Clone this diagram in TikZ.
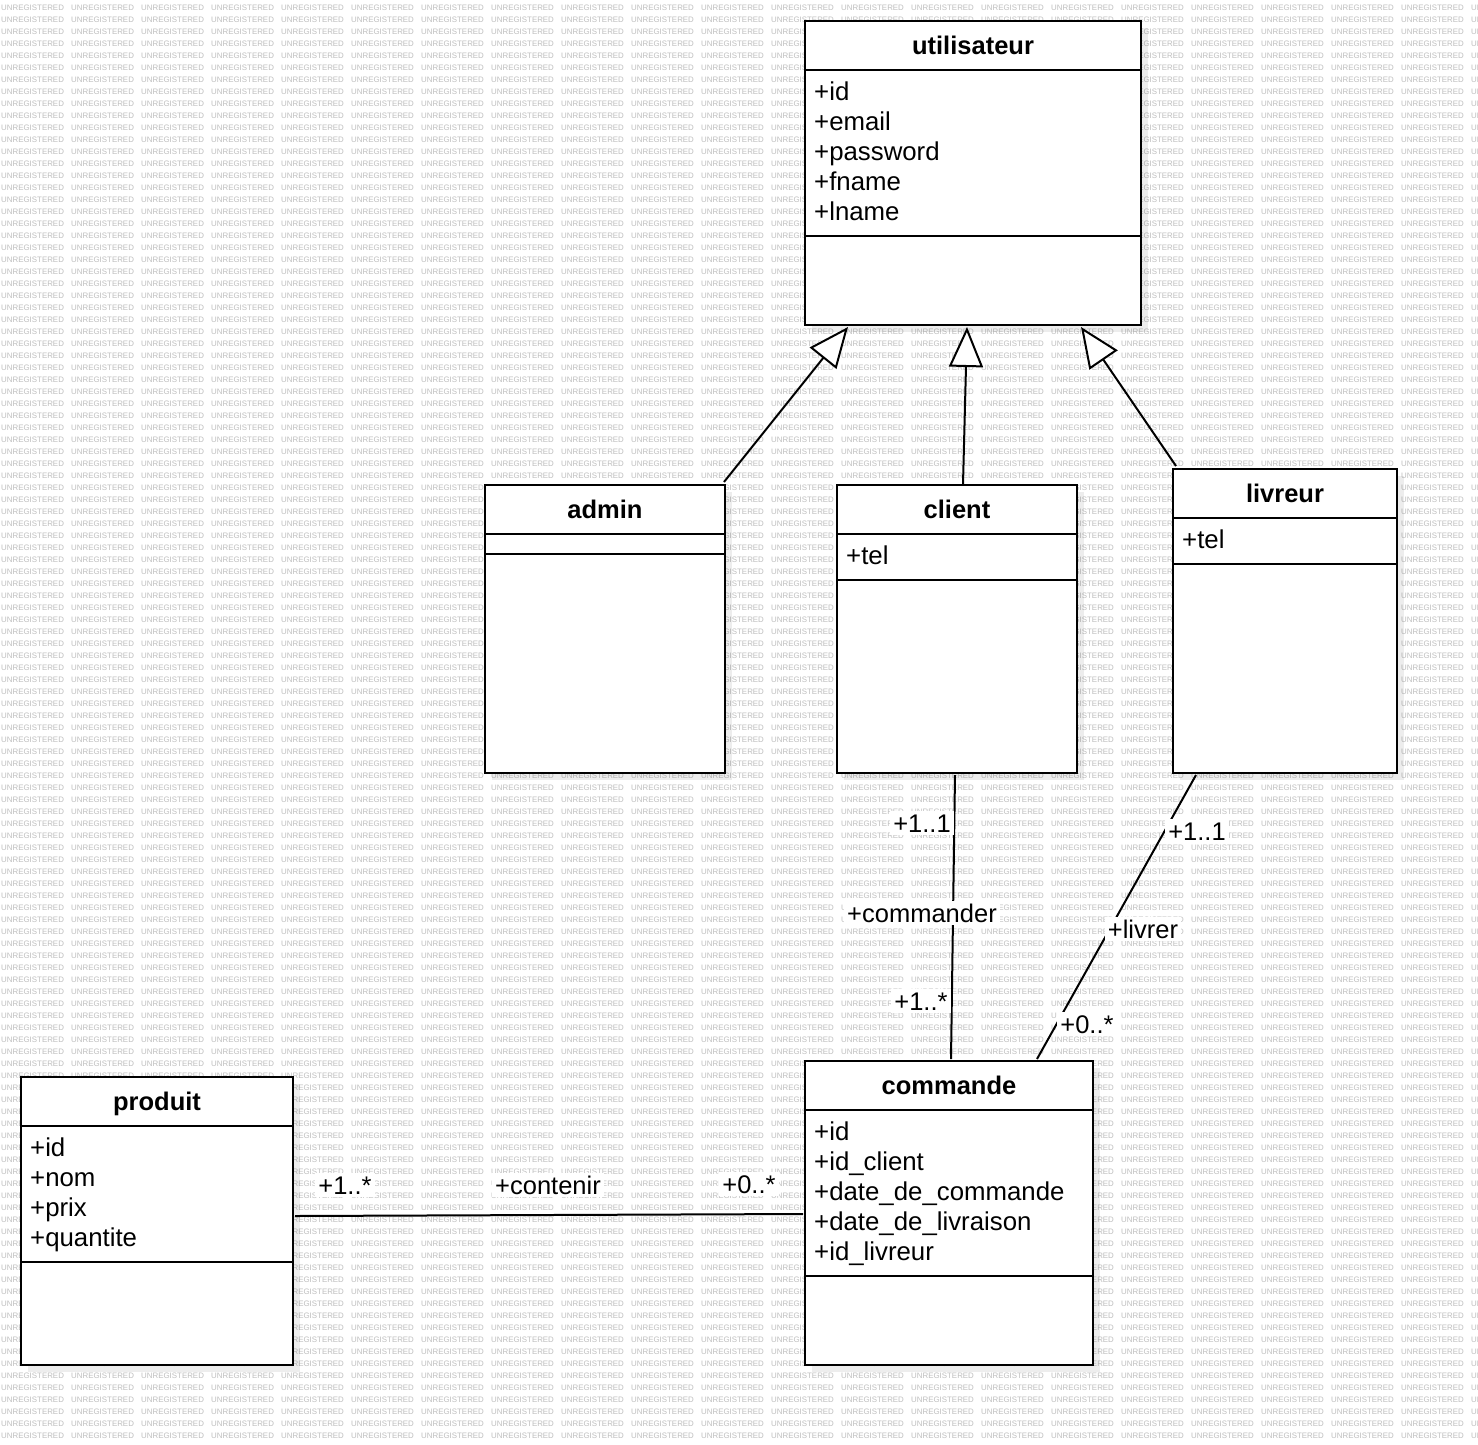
\documentclass[tikz,border=0pt]{standalone}
\usepackage{fontspec}
\setmainfont{Liberation Sans}
\usetikzlibrary{arrows.meta,calc}
\newcommand\wmword{\makebox[70pt][l]{UNREGISTERED}}
\newcommand\wmfour{\wmword\wmword\wmword\wmword}
\newcommand\wmrow{\wmfour\wmfour\wmfour\wmfour\wmfour\wmword\wmword}
\begin{document}
\begin{tikzpicture}[x=1pt,y=-1pt,
  cls/.style={draw=black, line width=2pt, fill=white, anchor=north west, inner sep=0pt},
  sep/.style={line width=2pt},
  title/.style={anchor=base, font=\fontsize{25.5}{30}\selectfont\bfseries, inner sep=0pt},
  attr/.style={anchor=base west, font=\fontsize{25.8}{30}\selectfont, inner sep=0pt},
  lbl/.style={anchor=base, fill=white, font=\fontsize{25.5}{30}\selectfont, inner sep=3pt},
  assoc/.style={line width=2pt},
  gen/.style={line width=2pt, -{Triangle[length=40pt,width=34pt,fill=white]}},
  shadowbox/.style={fill=black, opacity=0.07, draw=none},
  wm/.style={anchor=west, inner sep=0pt, font=\fontsize{7.9}{8}\selectfont, text=black!25}
]
\useasboundingbox (0,0) rectangle (1478,1444);
\fill[white] (0,0) rectangle (1478,1444);
% watermark
\begin{scope}
\clip (0,0) rectangle (1478,1444);
\foreach \r in {0,...,119} \node[wm] (wm\r) at (1, 7.5+12*\r) {\wmrow};
\end{scope}
% shadows
\fill[shadowbox] (812,28) rectangle (1148,332);
\fill[shadowbox] (492,492) rectangle (732,780);
\fill[shadowbox] (844,492) rectangle (1084,780);
\fill[shadowbox] (1180,476) rectangle (1404,780);
\fill[shadowbox] (28,1084) rectangle (300,1372);
\fill[shadowbox] (812,1068) rectangle (1100,1372);

% utilisateur
\node[cls, minimum width=336pt, minimum height=304pt] (util) at (804,20) {};
\draw[sep] ($(util.north west)+(0,50)$) -- ($(util.north east)+(0,50)$);
\draw[sep] ($(util.north west)+(0,216)$) -- ($(util.north east)+(0,216)$);
\node[title] (util-t) at ($(util.north)+(0,34)$) {utilisateur};
\foreach \a [count=\i from 0] in {+id,+email,+password,+fname,+lname}
  \node[attr] (util-a\i) at ($(util.north west)+(10,80+30*\i)$) {\a};

% admin
\node[cls, minimum width=240pt, minimum height=288pt] (admin) at (484,484) {};
\draw[sep] ($(admin.north west)+(0,50)$) -- ($(admin.north east)+(0,50)$);
\draw[sep] ($(admin.north west)+(0,70)$) -- ($(admin.north east)+(0,70)$);
\node[title] (admin-t) at ($(admin.north)+(0,34)$) {admin};

% client
\node[cls, minimum width=240pt, minimum height=288pt] (client) at (836,484) {};
\draw[sep] ($(client.north west)+(0,50)$) -- ($(client.north east)+(0,50)$);
\draw[sep] ($(client.north west)+(0,96)$) -- ($(client.north east)+(0,96)$);
\node[title] (client-t) at ($(client.north)+(0,34)$) {client};
\node[attr] (client-a0) at ($(client.north west)+(10,80)$) {+tel};

% livreur
\node[cls, minimum width=224pt, minimum height=304pt] (livreur) at (1172,468) {};
\draw[sep] ($(livreur.north west)+(0,50)$) -- ($(livreur.north east)+(0,50)$);
\draw[sep] ($(livreur.north west)+(0,96)$) -- ($(livreur.north east)+(0,96)$);
\node[title] (livreur-t) at ($(livreur.north)+(0,34)$) {livreur};
\node[attr] (livreur-a0) at ($(livreur.north west)+(10,80)$) {+tel};

% produit
\node[cls, minimum width=272pt, minimum height=288pt] (produit) at (20,1076) {};
\draw[sep] ($(produit.north west)+(0,50)$) -- ($(produit.north east)+(0,50)$);
\draw[sep] ($(produit.north west)+(0,186)$) -- ($(produit.north east)+(0,186)$);
\node[title] (produit-t) at ($(produit.north)+(0,34)$) {produit};
\foreach \a [count=\i from 0] in {+id,+nom,+prix,+quantite}
  \node[attr] (produit-a\i) at ($(produit.north west)+(10,80+30*\i)$) {\a};

% commande
\node[cls, minimum width=288pt, minimum height=304pt] (commande) at (804,1060) {};
\draw[sep] ($(commande.north west)+(0,50)$) -- ($(commande.north east)+(0,50)$);
\draw[sep] ($(commande.north west)+(0,216)$) -- ($(commande.north east)+(0,216)$);
\node[title] (commande-t) at ($(commande.north)+(0,34)$) {commande};
\foreach \a [count=\i from 0] in {+id,+id\_client,+date\_de\_commande,+date\_de\_livraison,+id\_livreur}
  \node[attr] (commande-a\i) at ($(commande.north west)+(10,80+30*\i)$) {\a};

% generalizations
\draw[gen] ($(admin.north east)+(-2,-2)$) -- ($(util.south west)+(44,1)$);
\draw[gen] ($(client.north)+(6,0)$) -- ($(util.south)+(-6,1)$);
\draw[gen] ($(livreur.north west)+(4,-2)$) -- ($(util.south east)+(-61,1)$);

% associations
\draw[assoc] ($(client.south)+(-2,1)$) -- ($(commande.north)+(2,-1)$);
\draw[assoc] ($(livreur.south west)+(24,1)$) -- ($(commande.north)+(88,-1)$);
\draw[assoc] ($(produit.north east)+(1,140)$) -- ($(commande.north west)+(-1,154)$);

% labels
\node[lbl] (l1) at (922,832) {+1..1};
\node[lbl] (l2) at (922,922) {+commander};
\node[lbl] (l3) at (921,1010) {+1..*};
\node[lbl] (l4) at (1197,840) {+1..1};
\node[lbl] (l5) at (1143,938) {+livrer};
\node[lbl] (l6) at (1087,1033) {+0..*};
\node[lbl] (l7) at (345,1194) {+1..*};
\node[lbl] (l8) at (548,1194) {+contenir};
\node[lbl] (l9) at (749,1193) {+0..*};
\end{tikzpicture}
\end{document}
